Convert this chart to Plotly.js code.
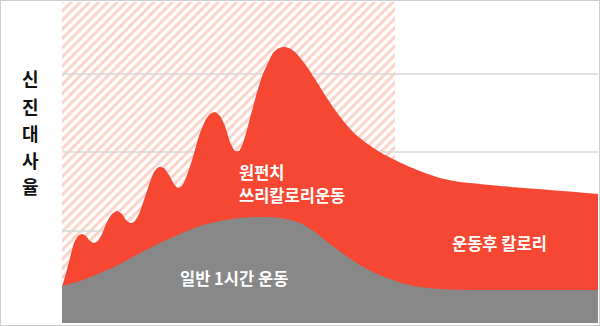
<!DOCTYPE html>
<html>
<head>
<meta charset="utf-8">
<script src="https://cdn.plot.ly/plotly-3.0.1.min.js"></script>
<style>
  html, body { margin: 0; padding: 0; background: #fff; }
  #chart { width: 598px; height: 324px; border: 1px solid #cdcdcd; }
</style>
</head>
<body>
<div id="chart"></div>
<script>
// ---- data (x: time units, y: metabolic rate units) ----
const xMax = 536;
const yMax = 321;
const exerciseSpan = [0, 333];
const gridY = [92, 171, 249];

const punchX = [0, 4, 8, 12, 16, 20, 24, 28, 32, 36, 40, 45, 50, 55, 60, 64, 68, 72, 77, 82, 87, 92, 97, 102, 107, 112, 116, 120, 125, 131, 137, 143, 148, 153, 158, 163, 168, 173, 177, 181, 186, 191, 196, 201, 206, 211, 217, 223, 229, 235, 243, 253, 263, 273, 283, 293, 303, 313, 323, 333, 348, 363, 378, 398, 418, 438, 463, 488, 513, 536];
const punchY = [36, 50, 65, 80, 87, 89, 87, 82, 80, 82, 89, 101, 109, 112, 109, 103, 100, 101, 109, 123, 138, 151, 156, 155, 148, 139, 135, 137, 148, 166, 187, 202, 209, 211, 207, 197, 181, 172, 172, 180, 197, 216, 234, 249, 260, 270, 275, 276, 274, 269, 259, 244, 228, 213, 200, 189, 181, 174, 168, 163, 156, 150, 145, 141, 139, 137, 135, 133, 131, 129];

const normalX = [0, 18, 38, 58, 78, 98, 118, 138, 158, 178, 198, 218, 238, 253, 268, 283, 298, 313, 328, 343, 358, 378, 408, 458, 536];
const normalY = [37, 42, 50, 59, 70, 80, 89, 97, 102, 105, 106, 105, 100, 91, 79, 68, 58, 50, 44, 39, 36, 34, 33, 33, 33];

const yTitleChars = ['신', '진', '대', '사', '율'];
const yTitleY = [245, 217, 190, 163, 137];

const labelTexts = ['원펀치', '쓰리칼로리운동', '일반 1시간 운동', '운동후 칼로리'];
const labelX = [175, 175, 116, 388];
const labelY = [151, 128, 45, 80];

// ---- traces ----
const traces = [];

traces.push({
  type: 'scatter', mode: 'lines',
  x: [exerciseSpan[0], exerciseSpan[1], exerciseSpan[1], exerciseSpan[0], exerciseSpan[0]],
  y: [0, 0, yMax, yMax, 0],
  fill: 'toself',
  fillcolor: '#ffffff',
  fillpattern: { shape: '/', fgcolor: '#fcd2c7', bgcolor: '#ffffff', size: 6.5, solidity: 0.45 },
  line: { width: 0 },
  hoverinfo: 'skip', showlegend: false
});

gridY.forEach(v => {
  traces.push({
    type: 'scatter', mode: 'lines',
    x: [0, xMax], y: [v, v],
    line: { color: '#d9d9d9', width: 1.5 },
    hoverinfo: 'skip', showlegend: false
  });
});

traces.push({
  type: 'scatter', mode: 'lines',
  x: punchX, y: punchY,
  fill: 'tozeroy', fillcolor: '#f54731',
  line: { width: 0, shape: 'spline', smoothing: 0.6 },
  hoverinfo: 'skip', showlegend: false
});

traces.push({
  type: 'scatter', mode: 'lines',
  x: normalX, y: normalY,
  fill: 'tozeroy', fillcolor: '#888888',
  line: { width: 0, shape: 'spline', smoothing: 0.8 },
  hoverinfo: 'skip', showlegend: false
});

// ---- annotations ----
const annotations = [];
yTitleChars.forEach((c, i) => {
  annotations.push({
    xref: 'paper', yref: 'y', x: -0.0597, y: yTitleY[i],
    text: c, showarrow: false, xanchor: 'center', yanchor: 'middle',
    font: { family: 'Noto Sans CJK KR', size: 18, color: '#111111', weight: 'bold' }
  });
});
labelTexts.forEach((t, i) => {
  annotations.push({
    xref: 'x', yref: 'y', x: labelX[i], y: labelY[i],
    text: t, showarrow: false, xanchor: 'left', yanchor: 'middle',
    font: { family: 'Noto Sans CJK KR', size: 16.5, color: '#ffffff', weight: 'bold' }
  });
});

const layout = {
  width: 598, height: 324,
  margin: { l: 61, r: 1, t: 1, b: 2, autoexpand: false },
  paper_bgcolor: '#ffffff', plot_bgcolor: '#ffffff',
  showlegend: false,
  xaxis: { range: [0, xMax], showgrid: false, zeroline: false, showticklabels: false, ticks: '', showline: false, fixedrange: true },
  yaxis: { range: [0, yMax], showgrid: false, zeroline: false, showticklabels: false, ticks: '', showline: false, fixedrange: true },
  annotations: annotations
};

Plotly.newPlot('chart', traces, layout, { staticPlot: true, displayModeBar: false });
</script>
</body>
</html>
